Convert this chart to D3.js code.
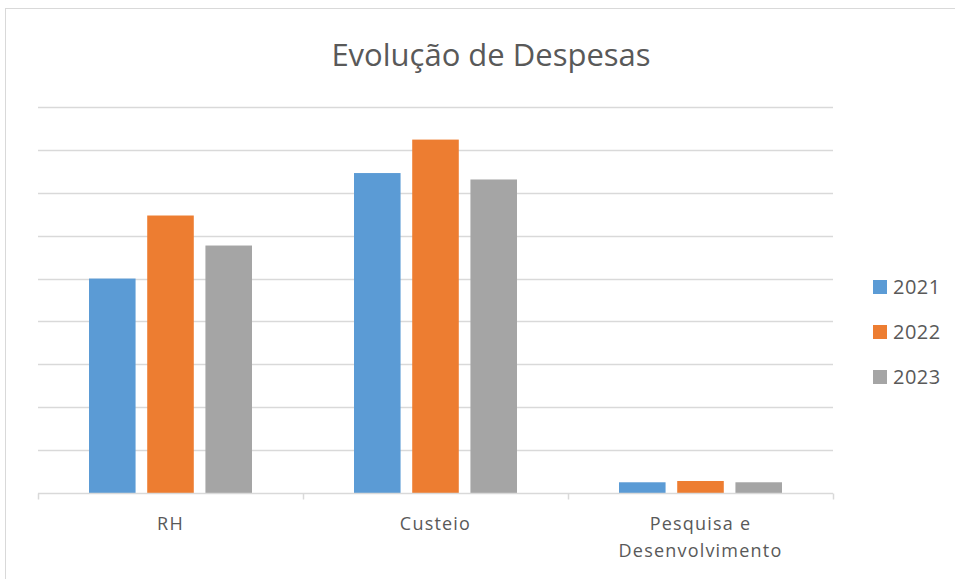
<!DOCTYPE html>
<html>
<head>
<meta charset="utf-8">
<script src="https://cdn.jsdelivr.net/npm/d3@7"></script>
<style>
  body { margin: 0; background: #fff; }
  text { font-family: "Open Sans", "Noto Sans", sans-serif; fill: #595959; }
</style>
</head>
<body>
<div id="chart"></div>
<script>

// data (units = gridline steps x10)
const categories = [["RH"], ["Custeio"], ["Pesquisa e", "Desenvolvimento"]];
const categoryKeys = ["RH", "Custeio", "P&D"];
const years = ["2021", "2022", "2023"];
const values2021 = [50.0, 74.6, 2.5];
const values2022 = [64.7, 82.4, 2.8];
const values2023 = [57.7, 73.1, 2.5];
const gridTicks = [0, 10, 20, 30, 40, 50, 60, 70, 80, 90];

const colors = ["#5b9bd5", "#ed7d31", "#a5a5a5"];
const seriesValues = [values2021, values2022, values2023];

const width = 955;
const height = 579;
const margin = {top: 107, right: 122, bottom: 86, left: 38};
const innerwidth = width - margin.left - margin.right;
const innerheight = height - margin.top - margin.bottom;

const svg = d3.select("#chart")
  .append("svg")
    .attr("width", width)
    .attr("height", height);

// chart frame
svg.append("rect")
  .attr("x", 5.5)
  .attr("y", 8.5)
  .attr("width", width + 10)
  .attr("height", height + 10)
  .attr("fill", "#fff")
  .attr("stroke", "#d9d9d9");

svg.append("text")
  .attr("x", 491)
  .attr("y", 66)
  .attr("text-anchor", "middle")
  .attr("font-size", 31)
  .text("Evolução de Despesas");

const innerChart = svg
  .append("g")
    .attr("transform", `translate(${margin.left}, ${margin.top})`);

// scales
const x0 = d3.scaleBand()
  .domain(categoryKeys)
  .range([0, innerwidth]);

const x1 = d3.scaleBand()
  .domain(years)
  .range([51, x0.bandwidth() - 51])
  .paddingInner(0.2);

const y = d3.scaleLinear()
  .domain([0, 90])
  .range([innerheight, 0]);

// gridlines
innerChart.selectAll(".grid")
  .data(gridTicks.slice(1))
  .join("line")
  .attr("class", "grid")
  .attr("x1", 0)
  .attr("x2", innerwidth)
  .attr("y1", d => Math.round(y(d)) + 0.5)
  .attr("y2", d => Math.round(y(d)) + 0.5)
  .attr("stroke", "#d9d9d9")
  .attr("stroke-width", 1.5);

// bars
const rows = categoryKeys.map((c, i) => ({
  cat: c,
  vals: years.map((yr, j) => ({year: yr, value: seriesValues[j][i], color: colors[j]}))
}));

innerChart.selectAll(".group")
  .data(rows)
  .join("g")
  .attr("class", "group")
  .attr("transform", d => `translate(${x0(d.cat)}, 0)`)
  .selectAll("rect")
  .data(d => d.vals)
  .join("rect")
  .attr("x", d => x1(d.year))
  .attr("width", x1.bandwidth())
  .attr("y", d => y(d.value))
  .attr("height", d => innerheight - y(d.value))
  .attr("fill", d => d.color);

// x axis
const xAxis = innerChart.append("g")
  .attr("transform", `translate(0, ${Math.round(innerheight) + 0.5})`);

xAxis.append("line")
  .attr("x1", 0)
  .attr("x2", innerwidth)
  .attr("stroke", "#d9d9d9")
  .attr("stroke-width", 1.5);

xAxis.selectAll(".tick")
  .data(d3.range(categoryKeys.length + 1))
  .join("line")
  .attr("class", "tick")
  .attr("x1", d => Math.round(d * x0.step()) + 0.5)
  .attr("x2", d => Math.round(d * x0.step()) + 0.5)
  .attr("y1", 0)
  .attr("y2", 6)
  .attr("stroke", "#d9d9d9")
  .attr("stroke-width", 1.5);

xAxis.selectAll(".label")
  .data(categories)
  .join("text")
  .attr("class", "label")
  .attr("x", (d, i) => x0(categoryKeys[i]) + x0.bandwidth() / 2)
  .attr("y", 36)
  .attr("text-anchor", "middle")
  .attr("font-size", 18)
  .attr("letter-spacing", 1.2)
  .selectAll("tspan")
  .data(d => d)
  .join("tspan")
  .attr("x", function() { return this.parentNode.getAttribute("x"); })
  .attr("dy", (d, i) => i === 0 ? 0 : 27)
  .text(d => d);

// legend
const legend = svg.append("g")
  .attr("transform", "translate(873, 280)");

legend.selectAll("rect")
  .data(years)
  .join("rect")
  .attr("x", 0)
  .attr("y", (d, i) => i * 45)
  .attr("width", 14)
  .attr("height", 14)
  .attr("fill", (d, i) => colors[i]);

legend.selectAll("text")
  .data(years)
  .join("text")
  .attr("x", 20)
  .attr("y", (d, i) => i * 45 + 14)
  .attr("font-size", 20)
  .attr("letter-spacing", 0.5)
  .text(d => d);

</script>
</body>
</html>
